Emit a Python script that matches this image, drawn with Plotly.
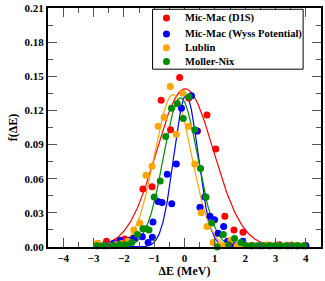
import numpy as np
import plotly.graph_objects as go

# ---- data ----
red_x = [-2.87, -2.57, -2.27, -1.97, -1.67, -1.37, -1.07, -0.77, -0.46, -0.16, 0.14, 0.43, 0.74, 1.03,
         1.33, 1.63, 1.93, 2.23, 2.53, 2.83, 3.13, 3.43, 3.73, 4.0]
red_y = [0.003, 0.005, 0.004, 0.007, 0.008, 0.051, 0.053, 0.129, 0.103, 0.149, 0.131, 0.102, 0.116, 0.086,
         0.027, 0.015, 0.013, 0.001, 0.001, 0.001, 0.002, 0.001, 0.001, 0.001]

blue_x = [-2.9, -2.6, -2.35, -2.12, -1.8, -1.64, -1.39, -1.2, -1.06, -1.04, -0.87, -0.74, -0.57, -0.42,
          -0.27, -0.1, 0.23, 0.41, 0.51, 0.67, 0.84, 0.99, 1.11, 1.29, 1.42, 1.6, 1.92, 2.2, 2.5, 2.8,
          3.1, 3.4, 3.7, 4.0]
blue_y = [0.001, 0.001, 0.003, 0.006, 0.006, 0.008, 0.009, 0.004, 0.0085, 0.022, 0.040, 0.039, 0.064, 0.038,
          0.073, 0.122, 0.133, 0.102, 0.035, 0.044, 0.027, 0.024, 0.012, 0.018, 0.005, 0.002, 0.005, 0.001,
          0.001, 0.001, 0.001, 0.001, 0.001, 0.001]

orange_x = [-2.87, -2.67, -2.47, -2.27, -2.07, -1.87, -1.67, -1.47, -1.27, -1.07, -0.87, -0.67, -0.47,
            -0.27, -0.06, 0.13, 0.34, 0.55, 0.74, 0.94, 1.13, 1.33, 1.53, 1.73, 1.93, 2.13, 2.33, 2.53,
            2.73, 2.93, 3.13, 3.33, 3.53, 3.73, 3.93]
orange_y = [0.003, 0.001, 0.001, 0.002, 0.003, 0.005, 0.015, 0.021, 0.063, 0.071, 0.106, 0.114, 0.141,
            0.099, 0.135, 0.106, 0.073, 0.030, 0.018, 0.004, 0.001, 0.001, 0.006, 0.001, 0.001, 0.001,
            0.001, 0.001, 0.002, 0.001, 0.001, 0.001, 0.002, 0.001, 0.001]

green_x = [-2.88, -2.69, -2.5, -2.31, -2.12, -1.93, -1.74, -1.55, -1.37, -1.26, -1.17, -1.0, -0.8, -0.62,
           -0.43, -0.24, -0.04, 0.15, 0.34, 0.53, 0.71, 0.9, 1.08, 1.28, 1.46, 1.65, 1.86, 2.03, 2.22,
           2.41, 2.6, 2.79, 2.98, 3.17, 3.36, 3.55, 3.74, 3.93]
green_y = [0.001, 0.001, 0.001, 0.001, 0.002, 0.002, 0.004, 0.011, 0.016, 0.016, 0.015, 0.044, 0.058, 0.097,
           0.122, 0.126, 0.113, 0.132, 0.103, 0.069, 0.044, 0.021, 0.0, 0.011, 0.002, 0.0075, 0.004, 0.001,
           0.001, 0.001, 0.001, 0.001, 0.001, 0.001, 0.001, 0.001, 0.001, 0.001]

# Gaussian fit parameters (amplitude, centre, width)
red_fit = (0.139, 0.02, 0.94)
blue_fit = (0.133, 0.05, 0.40)
orange_fit = (0.134, -0.38, 0.61)
green_fit = (0.131, -0.13, 0.56)

names = ["Mic-Mac (D1S)", "Mic-Mac (Wyss Potential)", "Lublin", "Moller-Nix"]
colors = ["#ff0000", "#0000ff", "#ffa500", "#008c00"]
y_ticks = [0.0, 0.03, 0.06, 0.09, 0.12, 0.15, 0.18, 0.21]

series = [(red_x, red_y, red_fit), (blue_x, blue_y, blue_fit),
          (orange_x, orange_y, orange_fit), (green_x, green_y, green_fit)]

fig = go.Figure()
xs = np.linspace(-3.0, 4.0, 400)
for (sx, sy, fit), name, col in zip(series, names, colors):
    a, mu, sg = fit
    fig.add_trace(go.Scatter(x=xs, y=a * np.exp(-0.5 * ((xs - mu) / sg) ** 2), mode="lines",
                             line=dict(color=col, width=1.2), showlegend=False, hoverinfo="skip"))
for (sx, sy, fit), name, col in zip(series, names, colors):
    fig.add_trace(go.Scatter(x=sx, y=sy, mode="markers", name=name, cliponaxis=False, showlegend=False,
                             marker=dict(color=col, size=7, line=dict(width=0))))

# compact legend box (plotly's own legend rows are taller than the reference's)
leg_x0, leg_x1, leg_y0, leg_y1 = 0.383, 0.9345, 0.744, 0.9946
leg_marker_x, leg_text_x = 0.434, 0.494
leg_rows = [0.9585, 0.891, 0.834, 0.776]
fig.add_shape(type="rect", xref="paper", yref="paper", x0=leg_x0, x1=leg_x1, y0=leg_y0, y1=leg_y1,
              fillcolor="white", line=dict(color="black", width=1), layer="above")
for name, col, ry in zip(names, colors, leg_rows):
    fig.add_shape(type="circle", xref="paper", yref="paper", xsizemode="pixel", ysizemode="pixel",
                  xanchor=leg_marker_x, yanchor=ry, x0=-3.5, x1=3.5, y0=-3.5, y1=3.5,
                  fillcolor=col, line=dict(width=0), layer="above")
    fig.add_annotation(xref="paper", yref="paper", x=leg_text_x, y=ry, xanchor="left", yanchor="middle",
                       text=name, showarrow=False,
                       font=dict(family="Liberation Serif", size=10.5, color="black", weight="bold"))

font = dict(family="Liberation Serif", size=11, color="black", weight="bold")

fig.update_layout(
    width=325, height=281,
    margin=dict(l=48, r=2, t=6, b=34),
    paper_bgcolor="white", plot_bgcolor="white",
    font=font,
    showlegend=False,
)
fig.update_xaxes(range=[-4.5, 4.5], dtick=1, tick0=0, ticks="inside", ticklen=9, tickwidth=1,
                 tickcolor="#555", showline=True, linecolor="black", linewidth=2, mirror="allticks",
                 showgrid=False, zeroline=False, ticklabeloverflow="allow",
                 minor=dict(dtick=0.5, ticks="inside", ticklen=5, tickcolor="#555", showgrid=False),
                 title=dict(text="ΔE (MeV)", font=dict(family="Liberation Serif", size=12, weight="bold"),
                            standoff=2),
                 tickfont=font)
fig.update_yaxes(range=[0, 0.21], tickmode="array", tickvals=y_ticks,
                 ticktext=[f"{v:.2f}" for v in y_ticks], ticks="inside", ticklen=9,
                 tickwidth=1, tickcolor="#555", showline=True, linecolor="black", linewidth=2,
                 mirror="allticks", showgrid=False, zeroline=False, ticklabeloverflow="allow",
                 minor=dict(tickmode="linear", tick0=0, dtick=0.015, ticks="inside", ticklen=5,
                            tickcolor="#555", showgrid=False),
                 title=dict(text="f(ΔE)", font=dict(family="Liberation Serif", size=12, weight="bold"),
                            standoff=4),
                 tickfont=font)

fig.write_html("out.html", config={"displayModeBar": False},
               post_script="document.body.style.margin='0';")
